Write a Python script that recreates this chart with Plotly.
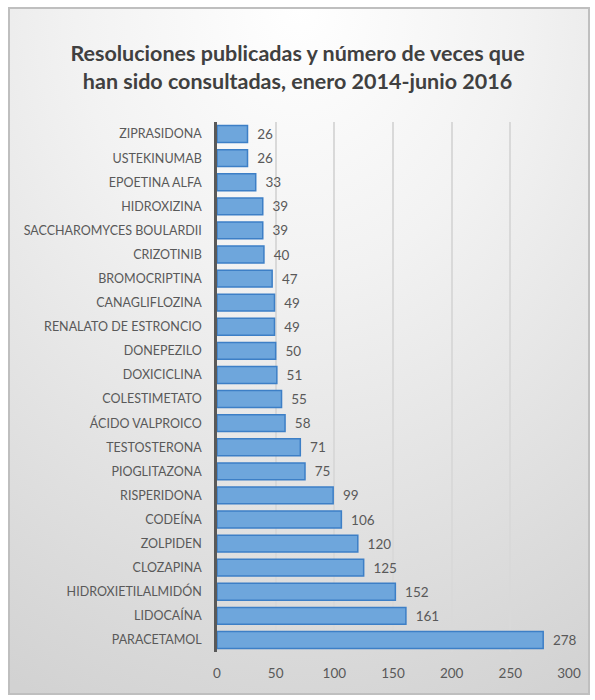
import base64
import plotly.graph_objects as go

categories = ["ZIPRASIDONA", "USTEKINUMAB", "EPOETINA ALFA", "HIDROXIZINA",
              "SACCHAROMYCES BOULARDII", "CRIZOTINIB", "BROMOCRIPTINA",
              "CANAGLIFLOZINA", "RENALATO DE ESTRONCIO", "DONEPEZILO",
              "DOXICICLINA", "COLESTIMETATO", "ÁCIDO VALPROICO", "TESTOSTERONA",
              "PIOGLITAZONA", "RISPERIDONA", "CODEÍNA", "ZOLPIDEN", "CLOZAPINA",
              "HIDROXIETILALMIDÓN", "LIDOCAÍNA", "PARACETAMOL"]
values = [26, 26, 33, 39, 39, 40, 47, 49, 49, 50, 51, 55, 58, 71, 75, 99,
          106, 120, 125, 152, 161, 278]
x_ticks = [0, 50, 100, 150, 200, 250, 300]

W, H = 595, 700
ML, MR, MT, MB = 217, 26, 122, 48
pw, ph = W - ML - MR, H - MT - MB

svg = f'''<svg xmlns="http://www.w3.org/2000/svg" width="582" height="688" viewBox="0 0 582 688">
<defs><radialGradient id="g" cx="0.5" cy="0" r="1.1" fx="0.5" fy="0">
<stop offset="0" stop-color="#ffffff"/><stop offset="0.35" stop-color="#f2f2f2"/><stop offset="1" stop-color="#d2d2d2"/></radialGradient></defs>
<rect x="1" y="1" width="580" height="686" fill="url(#g)" stroke="#bfbfbf" stroke-width="2"/></svg>'''
src = "data:image/svg+xml;base64," + base64.b64encode(svg.encode()).decode()

bx0, by0, bx1, by1 = 8, 7, 590, 695

fig = go.Figure()
fig.add_trace(go.Bar(
    y=categories, x=values, orientation="h",
    marker=dict(color="#6ea6dc", line=dict(color="#3d7fc6", width=1.5)),
    text=["\u2002" + str(v) for v in values], textposition="outside",
    textfont=dict(family="Lato", size=13.5, color="#595959"),
    cliponaxis=False, width=0.7,
))
fig.update_layout(
    width=W, height=H,
    margin=dict(l=ML, r=MR, t=MT, b=MB),
    paper_bgcolor="#ffffff", plot_bgcolor="rgba(0,0,0,0)",
    showlegend=False,
    title=dict(text="<b>Resoluciones publicadas y número de veces que<br>han sido consultadas, enero 2014-junio 2016</b>",
               x=0.5, xref="container", y=1 - 61 / H, yref="container", yanchor="middle",
               font=dict(family="Lato", size=21.5, color="#404040")),
    images=[dict(source=src, xref="paper", yref="paper",
                 x=(bx0 - ML) / pw, y=(H - MB - by0) / ph,
                 sizex=(bx1 - bx0) / pw, sizey=(by1 - by0) / ph,
                 xanchor="left", yanchor="top", sizing="stretch", layer="below")],
)
fig.update_xaxes(range=[0, 300], tickvals=x_ticks, showgrid=True, gridcolor="#d9d9d9", gridwidth=1.5,
                 zeroline=False, showline=False, ticks="outside", ticklen=9, tickcolor="rgba(0,0,0,0)",
                 tickfont=dict(family="Lato", size=13.5, color="#595959"))
fig.update_yaxes(categoryorder="array", categoryarray=categories[::-1],
                 showline=True, linecolor="#595959", linewidth=2.5, showgrid=False,
                 ticks="outside", ticklen=10, tickcolor="rgba(0,0,0,0)",
                 tickfont=dict(family="Lato", size=12.5, color="#595959"))
fig.write_html("out.html")
